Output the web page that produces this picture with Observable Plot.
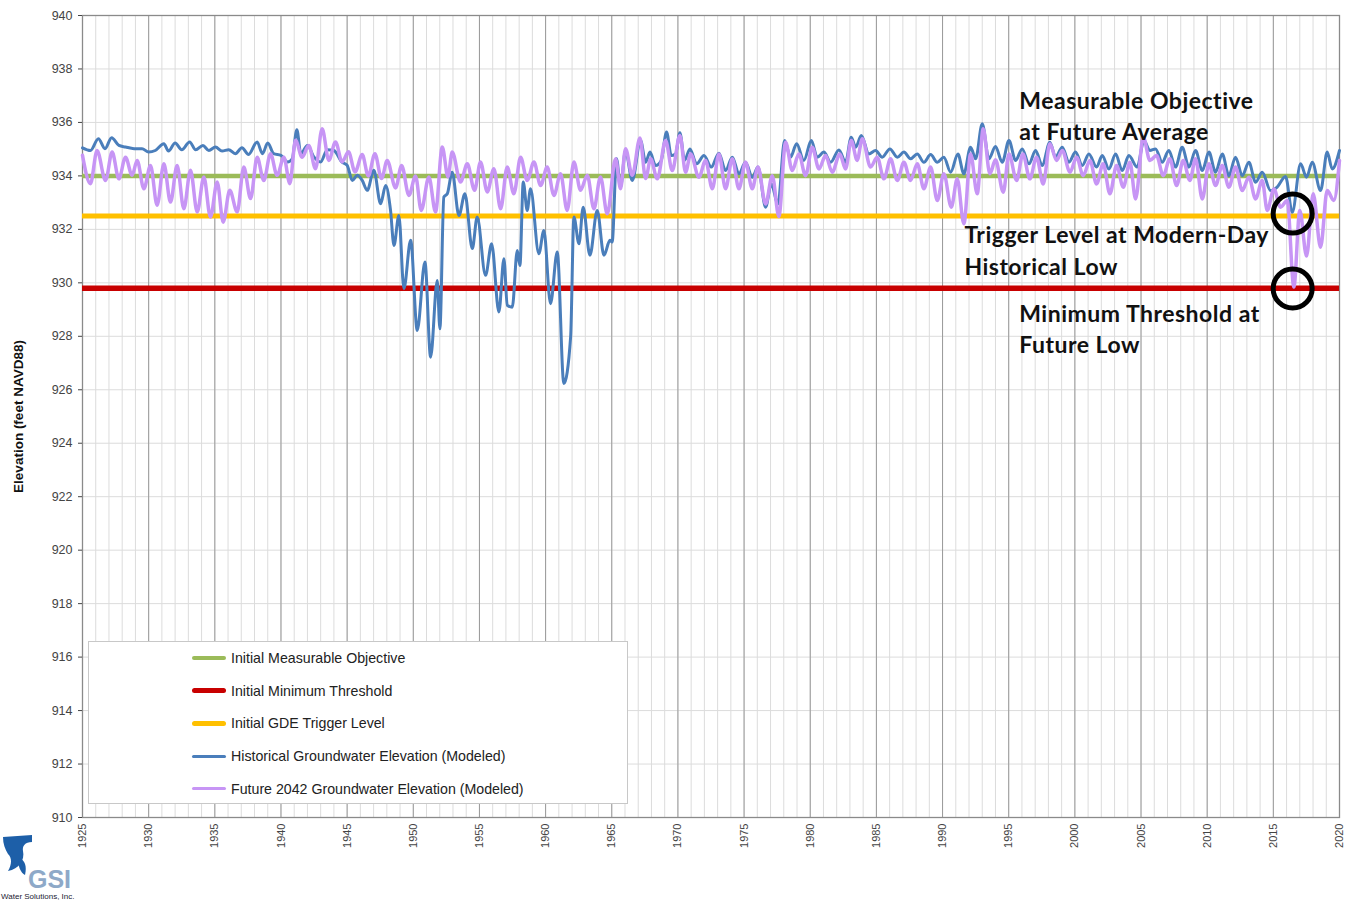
<!DOCTYPE html>
<html><head><meta charset="utf-8">
<script src="https://cdn.jsdelivr.net/npm/d3@7"></script>
<script src="https://cdn.jsdelivr.net/npm/@observablehq/plot@0.6"></script>
<style>
body{margin:0;background:#fff;}
#wrap{position:relative;width:1352px;height:901px;font-family:"Liberation Sans",Arial,sans-serif;}
#legend{position:absolute;left:88px;top:641px;width:538px;height:161px;background:#fff;border:1px solid #c8c8c8;}
.item{position:absolute;left:103px;height:20px;display:flex;align-items:center;font-size:14.2px;color:#222;white-space:nowrap;}
.sw{width:34px;margin-right:5px;border-radius:3px;}
#logo{position:absolute;left:0;top:833px;}
</style></head><body><div id="wrap"></div>
<script>
// ---- data ----
const yTicks = [910,912,914,916,918,920,922,924,926,928,930,932,934,936,938,940];
const xTicks = [1925,1930,1935,1940,1945,1950,1955,1960,1965,1970,1975,1980,1985,1990,1995,2000,2005,2010,2015,2020];

const thresholdNames = ["Initial Measurable Objective","Initial Minimum Threshold","Initial GDE Trigger Level"];
const thresholdLevels = [934.0, 929.8, 932.5];
const thresholdColors = ["#9bbb59","#c80000","#ffc000"];
const seriesNames = ["Historical Groundwater Elevation (Modeled)","Future 2042 Groundwater Elevation (Modeled)"];
const seriesColors = ["#4a7ebb","#c795f5"];

const historical = [
[1925.0,935.05],[1925.6,934.95],[1926.2,935.39],[1926.7,935.02],[1927.2,935.43],[1927.75,935.14],[1928.25,935.08],[1928.9,935.02],[1929.5,935.02],[1930.0,934.89],
[1930.5,934.95],[1931.15,935.2],[1931.5,934.93],[1932.0,935.23],[1932.5,934.98],[1933.1,935.27],[1933.55,934.98],[1934.1,935.14],[1934.55,934.95],[1935.05,935.08],
[1935.55,934.93],[1936.05,934.98],[1936.55,934.83],[1937.05,935.05],[1937.55,934.8],[1938.2,935.27],[1938.6,934.83],[1939.0,935.23],[1939.45,934.83],[1940.0,934.77],
[1940.5,934.52],[1940.85,934.64],[1941.2,935.73],[1941.5,934.83],[1942.0,935.14],[1942.5,934.7],[1943.0,934.52],[1943.5,934.98],[1944.0,934.95],[1944.6,934.52],
[1945.0,934.4],[1945.39,933.83],[1945.77,934.02],[1946.14,933.83],[1946.52,933.46],[1947.02,934.21],[1947.53,932.96],[1947.91,933.64],[1948.28,932.71],[1948.54,931.4],
[1948.91,932.52],[1949.29,929.78],[1949.8,931.59],[1950.3,928.22],[1950.88,930.78],[1951.31,927.22],[1951.81,930.09],[1952.01,928.28],[1952.31,933.21],[1952.57,933.33],
[1952.94,934.14],[1953.45,932.52],[1953.9,933.33],[1954.46,931.28],[1954.83,932.46],[1955.46,930.28],[1955.92,931.46],[1956.47,928.91],[1956.85,930.9],[1957.1,929.16],
[1957.48,929.09],[1957.86,931.21],[1958.06,930.65],[1958.31,933.77],[1958.61,932.71],[1958.86,933.52],[1959.49,931.09],[1959.87,931.96],[1960.37,929.22],[1960.88,931.15],
[1961.38,926.23],[1961.89,927.97],[1962.14,932.46],[1962.52,931.46],[1962.84,932.83],[1963.35,931.03],[1963.9,932.71],[1964.41,931.03],[1964.86,931.59],[1965.03,931.53],
[1965.36,934.64],[1965.66,933.58],[1966.04,934.95],[1966.55,933.83],[1967.18,935.32],[1967.56,934.51],[1967.89,934.89],[1968.31,934.39],[1968.74,934.58],[1969.14,935.64],
[1969.5,934.76],[1969.82,934.82],[1970.15,935.61],[1970.5,934.58],[1970.91,935.01],[1971.41,934.45],[1971.97,934.76],[1972.52,934.33],[1973.1,934.85],[1973.6,934.2],
[1974.11,934.7],[1974.61,934.08],[1975.11,934.51],[1975.62,933.95],[1976.05,934.33],[1976.63,932.83],[1977.05,933.7],[1977.56,932.95],[1978.06,935.32],[1978.51,934.7],
[1978.97,935.2],[1979.52,934.58],[1980.08,935.32],[1980.53,934.7],[1981.03,934.89],[1981.54,934.51],[1982.17,934.97],[1982.67,934.51],[1983.1,935.45],[1983.43,935.07],
[1983.86,935.51],[1984.43,934.82],[1984.94,934.95],[1985.44,934.7],[1986.02,935.01],[1986.58,934.7],[1987.08,934.89],[1987.58,934.64],[1988.09,934.82],[1988.59,934.51],
[1989.1,934.8],[1989.6,934.51],[1990.1,934.7],[1990.61,934.14],[1991.16,934.82],[1991.61,934.08],[1992.12,935.07],[1992.5,934.64],[1993.0,935.95],[1993.5,934.64],
[1994.0,935.1],[1994.51,934.51],[1995.02,935.32],[1995.52,934.58],[1996.02,935.01],[1996.53,934.45],[1997.03,934.95],[1997.53,934.39],[1998.11,935.26],[1998.54,934.7],
[1999.05,935.07],[1999.55,934.51],[2000.05,934.89],[2000.56,934.39],[2001.06,934.82],[2001.64,934.33],[2002.07,934.76],[2002.57,934.26],[2003.08,934.82],[2003.58,934.2],
[2004.08,934.76],[2004.71,934.33],[2005.22,935.32],[2005.67,934.95],[2006.1,935.01],[2006.6,934.51],[2007.1,934.95],[2007.61,934.33],[2008.11,935.07],[2008.62,934.33],
[2009.12,934.95],[2009.63,934.2],[2010.13,934.89],[2010.63,934.14],[2011.14,934.82],[2011.64,934.01],[2012.14,934.7],[2012.65,934.01],[2013.15,934.51],[2013.66,933.76],
[2014.16,934.14],[2014.79,933.45],[2015.29,933.58],[2015.92,933.98],[2016.43,932.64],[2017.06,934.45],[2017.51,933.95],[2017.94,934.51],[2018.57,933.45],[2019.07,934.89],
[2019.45,934.26],[2020.0,934.95]
];

const future2042 = [
[1925.0,934.77],[1925.6,933.71],[1926.1,934.95],[1926.74,933.83],[1927.24,934.89],[1927.75,933.89],[1928.25,934.7],[1928.75,934.02],[1929.13,934.58],[1929.64,933.52],
[1930.14,934.39],[1930.64,932.9],[1931.15,934.45],[1931.65,933.02],[1932.15,934.39],[1932.66,932.77],[1933.16,934.21],[1933.67,932.65],[1934.17,933.96],[1934.67,932.46],
[1935.18,933.77],[1935.63,932.27],[1936.13,933.46],[1936.69,932.65],[1937.19,934.33],[1937.7,933.15],[1938.2,934.7],[1938.7,933.83],[1939.21,934.83],[1939.71,934.02],
[1940.22,934.7],[1940.67,933.71],[1941.1,935.33],[1941.6,934.7],[1942.1,935.14],[1942.61,934.27],[1943.11,935.76],[1943.62,934.58],[1944.12,935.27],[1944.62,934.52],
[1945.1,934.9],[1945.6,934.15],[1946.14,934.8],[1946.6,934.0],[1947.1,934.83],[1947.6,933.9],[1948.03,934.58],[1948.66,933.55],[1949.12,934.39],[1949.67,933.27],
[1950.17,934.0],[1950.6,932.71],[1951.18,933.96],[1951.68,932.65],[1952.19,935.08],[1952.62,933.96],[1952.94,934.89],[1953.57,933.77],[1954.08,934.45],[1954.63,933.46],
[1955.08,934.52],[1955.59,933.4],[1956.09,934.27],[1956.6,932.77],[1957.1,934.33],[1957.6,933.33],[1958.11,934.7],[1958.61,933.83],[1959.12,934.52],[1959.62,933.64],
[1960.12,934.33],[1960.63,933.27],[1961.13,934.08],[1961.63,932.71],[1962.14,934.52],[1962.64,933.46],[1963.15,934.02],[1963.65,932.77],[1964.15,933.96],[1964.66,932.58],
[1965.29,934.64],[1965.66,933.52],[1966.04,935.02],[1966.55,934.02],[1967.13,935.42],[1967.56,933.9],[1967.94,934.64],[1968.44,933.89],[1969.07,935.32],[1969.57,934.2],
[1970.15,935.51],[1970.58,934.14],[1970.96,934.82],[1971.59,933.95],[1972.09,934.58],[1972.6,933.52],[1973.1,934.82],[1973.6,933.52],[1974.11,934.64],[1974.61,933.52],
[1975.11,934.51],[1975.62,933.52],[1976.05,934.33],[1976.63,932.95],[1977.13,934.01],[1977.63,932.48],[1978.14,935.26],[1978.64,934.2],[1979.14,934.82],[1979.65,934.01],
[1980.15,935.07],[1980.66,934.26],[1981.16,934.76],[1981.66,934.14],[1982.24,934.82],[1982.67,934.26],[1983.1,935.32],[1983.55,934.58],[1983.93,935.39],[1984.56,934.33],
[1985.06,934.7],[1985.57,933.89],[1986.07,934.64],[1986.58,933.83],[1987.08,934.51],[1987.58,933.83],[1988.09,934.45],[1988.59,933.52],[1989.1,934.33],[1989.6,933.08],
[1990.1,934.08],[1990.66,932.83],[1991.11,933.89],[1991.61,932.21],[1992.12,934.82],[1992.62,933.33],[1993.07,935.76],[1993.58,934.08],[1994.0,934.6],[1994.59,933.39],
[1995.02,934.82],[1995.6,933.83],[1996.07,934.82],[1996.6,933.89],[1997.1,934.7],[1997.61,933.7],[1998.11,935.2],[1998.62,934.58],[1999.05,934.95],[1999.63,934.14],
[2000.13,934.7],[2000.63,934.01],[2001.14,934.58],[2001.64,933.7],[2002.14,934.45],[2002.65,933.33],[2003.15,934.39],[2003.66,933.58],[2004.16,934.51],[2004.59,933.14],
[2005.17,935.45],[2005.67,934.58],[2006.17,934.76],[2006.68,934.01],[2007.18,934.64],[2007.69,933.64],[2008.19,934.58],[2008.69,933.83],[2009.12,934.64],[2009.63,933.14],
[2010.13,934.45],[2010.63,933.64],[2011.14,934.39],[2011.64,933.58],[2012.14,934.33],[2012.65,933.45],[2013.15,933.95],[2013.66,933.14],[2014.16,933.83],[2014.54,932.71],
[2015.04,933.51],[2015.55,932.83],[2016.05,933.08],[2016.55,929.84],[2017.0,932.71],[2017.51,931.0],[2018.01,933.33],[2018.57,931.33],[2019.07,933.45],[2019.57,933.08],
[2020.0,934.58]
];

const markedPoints = [[2016.46,932.59],[2016.46,929.79]];
const annotations = [
  {year:1995.8, elev:936.3, text:"Measurable Objective\nat Future Average"},
  {year:1991.65, elev:931.27, text:"Trigger Level at Modern-Day\nHistorical Low"},
  {year:1995.8, elev:928.33, text:"Minimum Threshold at\nFuture Low"}
];
const yLabel = "Elevation (feet NAVD88)";

// ---- chart ----
const allYears = d3.range(1925, 2021);
const chart = Plot.plot({
  width: 1352, height: 901,
  marginLeft: 82, marginRight: 13, marginTop: 15, marginBottom: 84,
  style: {fontFamily: '"Liberation Sans", Arial, sans-serif', color: "#444", background: "#fff"},
  x: {domain: [1925, 2020]},
  y: {domain: [910, 940]},
  marks: [
    Plot.ruleX(allYears, {x: d => d, stroke: "#dcdcdc", strokeWidth: 1}),
    Plot.ruleY(yTicks, {y: d => d, stroke: "#dcdcdc", strokeWidth: 1}),
    Plot.ruleX(xTicks, {x: d => d, stroke: "#9a9a9a", strokeWidth: 1}),
    Plot.frame({stroke: "#8a8a8a", strokeWidth: 1.3}),
    Plot.ruleY([thresholdLevels[0]], {y: d => d, stroke: thresholdColors[0], strokeWidth: 4.5}),
    Plot.ruleY([thresholdLevels[2]], {y: d => d, stroke: thresholdColors[2], strokeWidth: 5}),
    Plot.ruleY([thresholdLevels[1]], {y: d => d, stroke: thresholdColors[1], strokeWidth: 5.5}),
    Plot.line(historical, {x: d => d[0], y: d => d[1], stroke: seriesColors[0], strokeWidth: 3, curve: "monotone-x"}),
    Plot.line(future2042, {x: d => d[0], y: d => d[1], stroke: seriesColors[1], strokeWidth: 3.5, curve: "monotone-x"}),
    Plot.dot(markedPoints, {x: d => d[0], y: d => d[1], r: 19.5, stroke: "#000", strokeWidth: 5, fill: "none"}),
    Plot.text(annotations, {x: "year", y: "elev", text: "text", textAnchor: "start", lineAnchor: "middle", lineHeight: 1.36,
      fontSize: 23, fontWeight: "bold", fontFamily: "Lato", fill: "#111"}),
    Plot.axisY({ticks: yTicks, tickSize: 4, tickPadding: 6, tickFormat: d => String(d), fontSize: 12.5,
      label: yLabel, labelAnchor: "center", labelOffset: 69, labelArrow: "none"}),
    Plot.axisX({ticks: xTicks, tickSize: 0, tickPadding: 6, tickRotate: -90, tickFormat: d => String(d), fontSize: 11, label: null})
  ]
});
const wrap = document.getElementById("wrap");
wrap.appendChild(chart);
const lab = chart.querySelector('g[aria-label="y-axis label"]');
if (lab) {
  lab.setAttribute("font-weight", "bold"); lab.setAttribute("font-size", "13.5"); lab.setAttribute("fill", "#111");
  lab.querySelectorAll("text").forEach(t => { t.textContent = yLabel; t.setAttribute("font-size", "13.5"); });
}
chart.querySelectorAll('g[aria-label="text"] text').forEach(t => t.setAttribute("letter-spacing", "0.5"));

// legend
const legend = document.createElement("div");
legend.id = "legend";
const legendNames = thresholdNames.concat(seriesNames);
const legendColors = thresholdColors.concat(seriesColors);
const legendThick = [4, 5, 4.5, 3, 3];
legendNames.forEach((name, i) => {
  const it = document.createElement("div");
  it.className = "item";
  it.style.top = (6 + i * 32.7) + "px";
  const sw = document.createElement("span");
  sw.className = "sw";
  sw.style.height = legendThick[i] + "px";
  sw.style.background = legendColors[i];
  it.appendChild(sw);
  it.appendChild(document.createTextNode(name));
  legend.appendChild(it);
});
wrap.appendChild(legend);

// logo
const logo = document.createElementNS("http://www.w3.org/2000/svg", "svg");
logo.id = "logo";
logo.setAttribute("width", "75");
logo.setAttribute("height", "68");
logo.innerHTML = `
<path d="M3 4 L32 2 L32 9 C25 9 22 13 23 18 C25 27 19 36 8 38 C12 31 12 25 8 21 C5 16 3 11 3 4 Z" fill="#1d5fa8"/>
<path d="M19 25 C25 27 27 33 25 42 C21 40 17 33 19 25 Z" fill="#1d5fa8"/>
<text x="28" y="55" font-family="Liberation Sans, Arial" font-weight="bold" font-size="25" fill="#8ea9c8">GSI</text>
<text x="1" y="66" font-family="Liberation Sans Narrow, Liberation Sans, Arial" font-size="8" fill="#223">Water Solutions, Inc.</text>`;
wrap.appendChild(logo);
</script>
</body></html>
